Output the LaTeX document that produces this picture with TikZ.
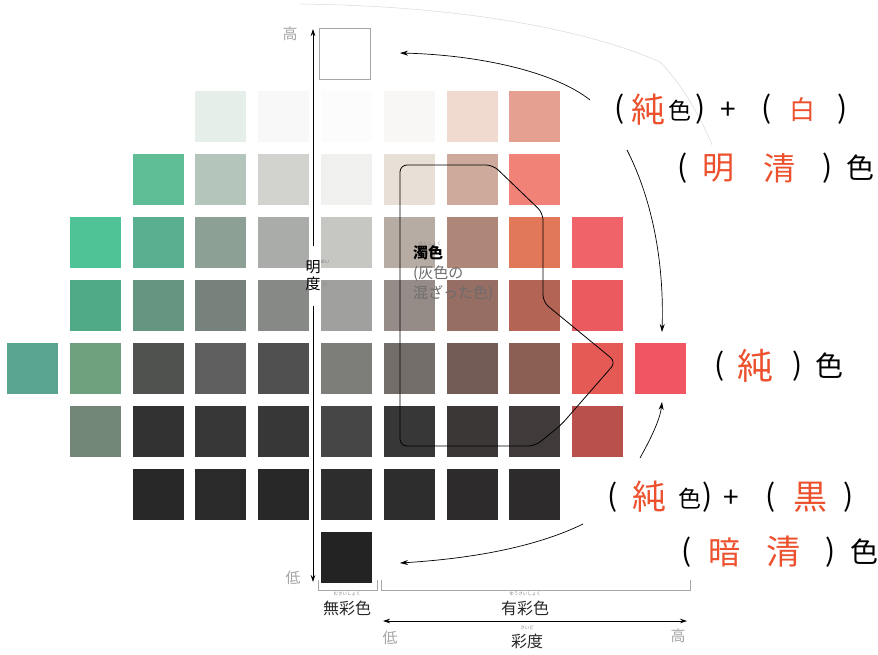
\documentclass[tikz,border=0pt]{standalone}
\usepackage{fontspec}
\setmainfont{Noto Sans CJK JP}
\usetikzlibrary{arrows.meta}
\definecolor{hred}{RGB}{236,80,45}
\definecolor{txtg}{RGB}{40,40,40}
\tikzset{
 sq/.style={minimum size=51pt, inner sep=0pt, outer sep=0pt},
 arr/.style={line width=0.7pt, -{Stealth[length=8pt,width=5pt]}},
 axarr/.style={line width=0.7pt, -{Stealth[length=7pt,width=4.5pt]}},
 hw/.style={font=\fontsize{28}{28}\selectfont, inner sep=0pt},
 hwr/.style={hw, text=hred, font=\fontsize{32}{32}\selectfont},
 par/.style={font=\fontsize{30}{30}\selectfont, inner sep=0pt},
 lab/.style={font=\fontsize{16}{18}\selectfont, text=txtg, inner sep=1pt},
 low/.style={font=\fontsize{15}{15}\selectfont, text=gray!70, inner sep=0pt},
 rub/.style={font=\fontsize{4.5}{5}\selectfont, text=gray, inner sep=0pt},
 brk/.style={gray!70, line width=0.6pt},
}
\begin{document}
\begin{tikzpicture}[x=1pt,y=-1pt]
\useasboundingbox (0,0) rectangle (878,654);
\fill[white] (0,0) rectangle (878,654);
% faint page line
\draw[gray!30, line width=0.5pt] (300,4) .. controls (480,6) and (600,35) .. (660,62) .. controls (680,82) and (700,115) .. (712,145);
% squares
\foreach \r/\c/\R/\G/\B in {
 1/3/230/238/234, 1/4/247/248/247, 1/5/252/252/252, 1/6/248/247/246, 1/7/240/217/207, 1/8/230/160/145,
 2/2/95/190/150, 2/3/180/198/188, 2/4/210/210/206, 2/5/240/240/238, 2/6/232/224/214, 2/7/205/170/155, 2/8/240/130/120,
 3/1/80/195/150, 3/2/90/175/145, 3/3/140/160/150, 3/4/170/172/170, 3/5/198/198/195, 3/6/182/172/164, 3/7/175/135/120, 3/8/225/120/90, 3/9/240/100/105,
 4/1/80/170/135, 4/2/100/150/130, 4/3/120/130/125, 4/4/135/137/135, 4/5/160/160/158, 4/6/150/140/135, 4/7/150/110/100, 4/8/180/100/85, 4/9/235/90/95,
 5/0/90/165/145, 5/1/110/160/125, 5/2/80/82/80, 5/3/95/95/95, 5/4/80/80/80, 5/5/125/125/122, 5/6/115/110/105, 5/7/115/92/85, 5/8/140/95/85, 5/9/230/90/85, 5/10/240/85/100,
 6/1/115/135/120, 6/2/50/50/50, 6/3/55/55/55, 6/4/55/55/55, 6/5/70/70/70, 6/6/55/55/55, 6/7/60/55/55, 6/8/65/58/58, 6/9/185/80/75,
 7/2/40/40/40, 7/3/42/42/42, 7/4/40/40/40, 7/5/45/45/45, 7/6/45/45/45, 7/7/45/43/43, 7/8/45/43/43,
 8/5/35/35/35}{
 \definecolor{tmp}{RGB}{\R,\G,\B}
 \node[sq, fill=tmp] (s\r-\c) at ({32.5+62.8*\c},{53.5+63*\r}) {};
}
\node[sq, fill=white, draw=gray!70, line width=0.5pt] (s0-5) at (345,53.5) {};
% turbid region outline
\draw[line width=0.8pt, rounded corners=7pt] (400,446) -- (400,165) -- (493,165) -- (543,213) -- (543,302) -- (616,362) -- (561,425) -- (535,446) -- cycle;
\node[anchor=north west, align=left, inner sep=0pt, font=\fontsize{15}{20}\selectfont] (dk) at (413,245) {\textcolor{black}{\bfseries 濁色}\\\textcolor{gray!85!black}{(灰色の}\\\textcolor{gray!85!black}{混ざった色)}};
\node[rub] (dkr) at (430,244) {だくしょく};
% lightness axis
\node[font=\fontsize{15}{17}\selectfont, align=center, inner xsep=1pt, inner ysep=15pt] (md) at (313,276) {明\\度};
\node[rub] (mdr1) at (325,262) {めい};
\node[rub] (mdr2) at (325,285) {ど};
\coordinate (atop) at (313,29);
\coordinate (abot) at (313,582);
\draw[axarr] (md) -- (atop);
\draw[axarr] (md) -- (abot);
\node[low] (hi) at (290,34) {高};
\node[low] (lo) at (293,578) {低};
% brackets
\coordinate (b1a) at (318,580); \coordinate (b1b) at (377,580);
\coordinate (b2a) at (381,580); \coordinate (b2b) at (690,580);
\draw[brk] (b1a) -- ++(0,10) -| (b1b);
\draw[brk] (b2a) -- ++(0,10) -| (b2b);
\node[lab] (musai) at (347,608) {無彩色};
\node[lab] (yusai) at (525,608) {有彩色};
\node[rub] (musair) at (347,594) {むさいしょく};
\node[rub] (yusair) at (525,594) {ゆうさいしょく};
% chroma axis
\coordinate (cl) at (383,621); \coordinate (ch) at (687,621);
\draw[axarr, {Stealth[length=7pt,width=4.5pt]}-{Stealth[length=7pt,width=4.5pt]}] (cl) -- (ch);
\node[lab] (sd) at (527,641) {彩度};
\node[rub] (sdr) at (527,628) {さいど};
\node[low] (clo) at (390,638) {低};
\node[low] (chi) at (678,636) {高};
% handwritten line A
\node[par] (a1) at (620,109) {(};
\node[hwr, font=\fontsize{34}{34}\selectfont] (a2) at (648,110) {純};
\node[hw, font=\fontsize{23}{23}\selectfont] (a3) at (680,111) {色};
\node[par] (a4) at (701,109) {)};
\node[hw] (a5) at (728,111) {+};
\node[par] (a6) at (767,109) {(};
\node[hwr, font=\fontsize{26}{26}\selectfont] (a7) at (802,110) {白};
\node[par] (a8) at (843,109) {)};
% line B
\node[par] (b1) at (683,168) {(};
\node[hwr] (b2) at (718,168) {明};
\node[hwr] (b3) at (779,168) {清};
\node[par] (b4) at (828,168) {)};
\node[hw] (b5) at (860,168) {色};
% line C
\node[par] (c1) at (720,366) {(};
\node[hwr, font=\fontsize{36}{36}\selectfont] (c2) at (755,366) {純};
\node[par] (c3) at (798,366) {)};
\node[hw] (c4) at (829,366) {色};
% line D
\node[par] (d1) at (613,497) {(};
\node[hwr, font=\fontsize{34}{34}\selectfont] (d2) at (649,497) {純};
\node[hw, font=\fontsize{23}{23}\selectfont] (d3) at (690,499) {色};
\node[par] (d4) at (708,497) {)};
\node[hw] (d5) at (731,499) {+};
\node[par] (d6) at (771,497) {(};
\node[hwr, font=\fontsize{34}{34}\selectfont] (d7) at (810,497) {黒};
\node[par] (d8) at (849,497) {)};
% line E
\node[par] (e1) at (687,552) {(};
\node[hwr] (e2) at (724,552) {暗};
\node[hwr, font=\fontsize{34}{34}\selectfont] (e3) at (783,552) {清};
\node[par] (e4) at (831,552) {)};
\node[hw] (e5) at (864,552) {色};
% arrows
\coordinate (p1s) at (590,100); \coordinate (p1e) at (400,53);
\draw[arr] (p1s) .. controls (555,72) and (480,55) .. (p1e);
\coordinate (p2s) at (627,150); \coordinate (p2e) at (662,332);
\draw[arr] (p2s) .. controls (655,205) and (664,270) .. (p2e);
\coordinate (p3s) at (640,458); \coordinate (p3e) at (662,402);
\draw[arr] (p3s) .. controls (650,440) and (660,420) .. (p3e);
\coordinate (p4s) at (583,524); \coordinate (p4e) at (400,563);
\draw[arr] (p4s) .. controls (540,545) and (480,558) .. (p4e);
\end{tikzpicture}
\end{document}
